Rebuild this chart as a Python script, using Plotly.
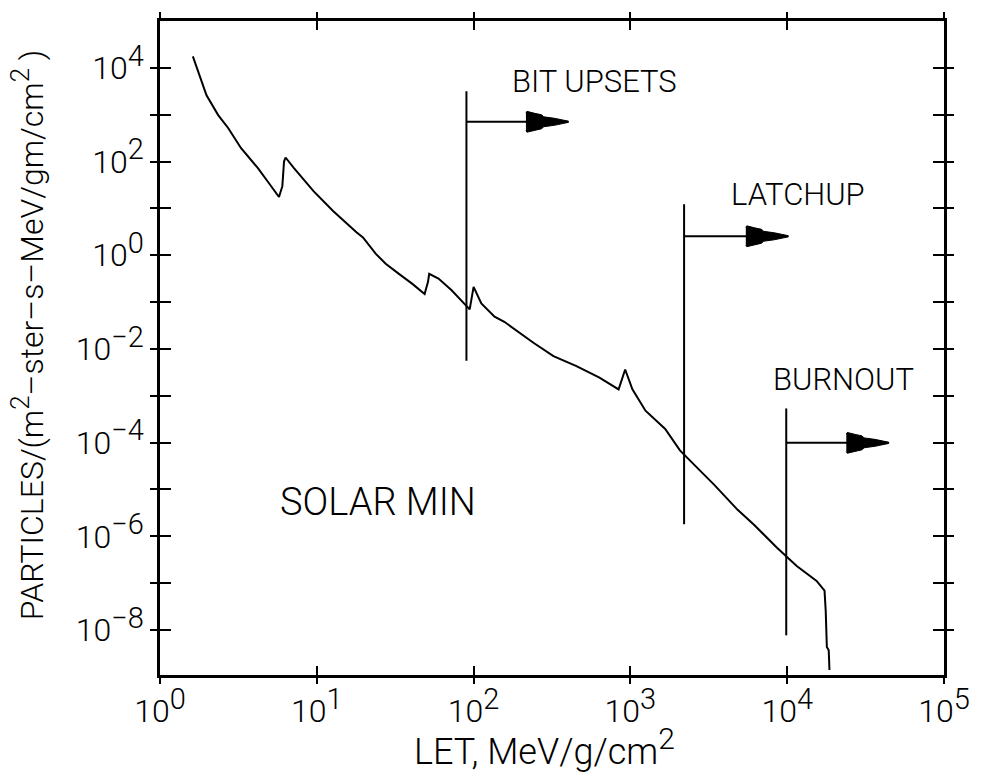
import numpy as np
import plotly.graph_objects as go

# ---- data ----
let_vals = [1.62, 1.85, 1.98, 2.35, 2.72, 3.29, 4.2, 4.85, 5.74, 6.03, 6.18, 6.32,
            7.13, 9.53, 12.7, 17.9, 19.7, 23.8, 27.5, 33.4, 40.5, 48.7, 51.2, 52.1,
            59.7, 72.4, 87.7, 94.4, 100, 112, 136, 157, 242, 323, 453, 635, 841, 926,
            1030, 1248, 1667, 2070, 2700, 3440, 4830, 6140, 8610, 11500, 15400,
            17300, 17600, 17900, 18400, 18600]
flux_vals = [1.76e4, 4.95e3, 2.6e3, 980, 520, 193, 73, 38, 17.5, 29.8, 100, 122,
             73, 23.3, 8.8, 3.08, 2.4, 1.07, 0.66, 0.40, 0.248, 0.148, 0.27, 0.40,
             0.317, 0.179, 0.094, 0.070, 0.211, 0.094, 0.049, 0.038, 0.0134, 0.0070,
             0.0043, 0.00243, 0.00137, 0.00364, 0.00137, 4.8e-4, 1.96e-4, 6.85e-5,
             2.79e-5, 1.24e-5, 3.68e-6, 1.77e-6, 5.7e-7, 2.33e-7, 1.12e-7, 6.9e-8,
             2.6e-8, 4.35e-9, 3.7e-9, 1.4e-9]

thr_names = ["BIT UPSETS", "LATCHUP", "BURNOUT"]
thr_x = [90, 2200, 9860]
thr_ytop = [3.15e3, 12.2, 5.37e-4]
thr_ybot = [5.6e-3, 1.8e-6, 7.7e-9]
thr_arrow_y = [706, 2.54, 9.9e-5]
thr_arrow_tip = [402, 10150, 44400]

x_exps = [0, 1, 2, 3, 4, 5]
y_exps = list(range(-8, 5))

SUP = "<sup><span style='font-size:29px'>{}</span></sup>"
x_tickvals = [10.0 ** e for e in x_exps]
x_ticktext = ["10" + SUP.format(e) for e in x_exps]
y_tickvals = [10.0 ** e for e in y_exps]
y_ticktext = [("10" + SUP.format(str(e) if e >= 0 else "\u2212" + str(-e)))
              if e % 2 == 0 else "" for e in y_exps]

# ---- layout geometry ----
W, H = 982, 777
ML, MR, MT, MB = 160, 27, 15, 102
XR = [0, 5]
YR = [-8.96, 5.0]
px_per_dec_x = (W - ML - MR) / (XR[1] - XR[0])
px_per_dec_y = (H - MT - MB) / (YR[1] - YR[0])

FONT = "Roboto"
fig = go.Figure()

fig.add_trace(go.Scatter(x=let_vals, y=flux_vals, mode="lines",
                         line=dict(color="black", width=2), hoverinfo="skip",
                         showlegend=False))

# arrowhead template in pixels (dx from tip, half-height)
head_dx = [-43, -42, -34, -27, -25, -14, 0]
head_hh = [9, 10.5, 8.5, 7, 5, 3.5, 0.6]

for i in range(len(thr_names)):
    fig.add_trace(go.Scatter(x=[thr_x[i], thr_x[i]], y=[thr_ybot[i], thr_ytop[i]],
                             mode="lines", line=dict(color="black", width=2),
                             hoverinfo="skip", showlegend=False))
    fig.add_trace(go.Scatter(x=[thr_x[i], thr_arrow_tip[i]],
                             y=[thr_arrow_y[i], thr_arrow_y[i]],
                             mode="lines", line=dict(color="black", width=2),
                             hoverinfo="skip", showlegend=False))
    lx = np.log10(thr_arrow_tip[i])
    ly = np.log10(thr_arrow_y[i])
    xs = [lx + d / px_per_dec_x for d in head_dx] + [lx + d / px_per_dec_x for d in head_dx[::-1]]
    ys = [ly + h / px_per_dec_y for h in head_hh] + [ly - h / px_per_dec_y for h in head_hh[::-1]]
    fig.add_trace(go.Scatter(x=[10 ** v for v in xs], y=[10 ** v for v in ys],
                             mode="lines", fill="toself", fillcolor="black",
                             line=dict(color="black", width=1),
                             hoverinfo="skip", showlegend=False))

# invisible trace to carry the overlay axes (inner halves of the ticks)
fig.add_trace(go.Scatter(x=let_vals, y=flux_vals, xaxis="x2", yaxis="y2", mode="lines",
                         line=dict(width=0), opacity=0, hoverinfo="skip", showlegend=False))

axis_common = dict(type="log", showgrid=False, zeroline=False)
tick_font = dict(family=FONT, size=32, weight=300, color="black")
fig.update_layout(
    width=W, height=H,
    margin=dict(l=ML, r=MR, t=MT, b=MB),
    paper_bgcolor="white", plot_bgcolor="white",
    font=dict(family=FONT, color="black", size=26),
    xaxis=dict(**axis_common, range=XR, tickvals=x_tickvals, ticktext=x_ticktext,
               ticks="outside", ticklen=6, tickwidth=2, tickcolor="black",
               showline=True, linewidth=2.5, linecolor="black", mirror="ticks",
               tickfont=tick_font),
    yaxis=dict(**axis_common, range=YR, tickvals=y_tickvals, ticktext=y_ticktext,
               ticks="outside", ticklen=7, tickwidth=2, tickcolor="black",
               showline=True, linewidth=2.5, linecolor="black", mirror="ticks",
               tickfont=tick_font),
    xaxis2=dict(**axis_common, range=XR, overlaying="x", tickvals=x_tickvals,
                ticks="inside", ticklen=9, tickwidth=2, tickcolor="black",
                showticklabels=False, showline=False, mirror="ticks", side="bottom"),
    yaxis2=dict(**axis_common, range=YR, overlaying="y", tickvals=y_tickvals,
                ticks="inside", ticklen=11, tickwidth=2, tickcolor="black",
                showticklabels=False, showline=False, mirror="ticks", side="left"),
)

label_font = dict(family=FONT, size=31, color="black", weight=300)
ann = [
    dict(text="BIT UPSETS", x=2.233, y=3.71, xanchor="left", yanchor="middle"),
    dict(text="LATCHUP", x=3.629, y=1.30, xanchor="left", yanchor="middle"),
    dict(text="BURNOUT", x=3.899, y=-2.656, xanchor="left", yanchor="middle"),
]
for a in ann:
    fig.add_annotation(xref="x", yref="y", showarrow=False, font=label_font, **a)

fig.add_annotation(text="SOLAR MIN", x=0.755, y=-5.258, xref="x", yref="y",
                   xanchor="left", yanchor="middle", showarrow=False,
                   font=dict(family=FONT, size=38, color="black", weight=300))

fig.add_annotation(text="LET, MeV/g/cm<sup><span style='font-size:30px'>2</span></sup>",
                   xref="paper", yref="paper",
                   x=0.49, y=-0.11, xanchor="center", yanchor="middle", showarrow=False,
                   font=dict(family=FONT, size=36, color="black", weight=300))
fig.add_annotation(text="PARTICLES/(m<sup><span style='font-size:26px'>2</span></sup>"
                        "\u2013ster\u2013s\u2013MeV/gm/cm<sup><span style='font-size:26px'>2</span></sup> )",
                   xref="paper", yref="paper", x=-0.168, y=0.52, textangle=-90,
                   xanchor="center", yanchor="middle", showarrow=False,
                   font=dict(family=FONT, size=32, color="black", weight=300))

fig.write_html("out.html")
